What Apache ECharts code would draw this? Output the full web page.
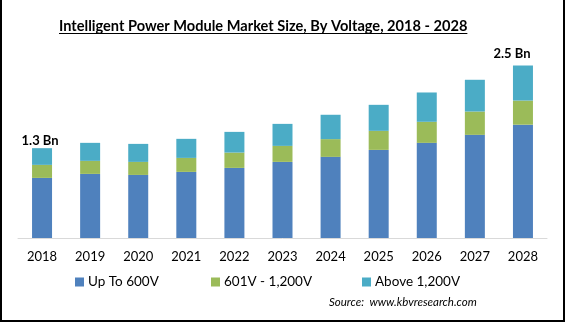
<!DOCTYPE html>
<html>
<head>
<meta charset="utf-8">
<script src="https://cdn.jsdelivr.net/npm/echarts@6/dist/echarts.min.js"></script>
<style>
  html, body { margin: 0; padding: 0; background: #fff; }
  #frame { position: relative; width: 565px; height: 322px; box-sizing: border-box;
           border-left: 2px solid #000; border-right: 2px solid #000; border-bottom: 2px solid #000; }
  #chart { position: absolute; left: -2px; top: 0; width: 565px; height: 322px; }
</style>
</head>
<body>
<div id="frame"><div id="chart"></div></div>
<script>
// Market size by voltage class, USD billion
const years = ['2018','2019','2020','2021','2022','2023','2024','2025','2026','2027','2028'];
const upTo600V = [0.871, 0.929, 0.914, 0.958, 1.016, 1.103, 1.176, 1.277, 1.379, 1.495, 1.642];
const v601to1200 = [0.189, 0.189, 0.189, 0.203, 0.222, 0.232, 0.257, 0.276, 0.305, 0.338, 0.350];
const above1200V = [0.242, 0.261, 0.261, 0.276, 0.300, 0.319, 0.353, 0.377, 0.425, 0.460, 0.508];
const seriesNames = ['Up To 600V', '601V - 1,200V', 'Above 1,200V'];
const colors = ['#4F81BD', '#9BBB59', '#4BACC6'];
const titleText = 'Intelligent Power Module Market Size, By Voltage, 2018 - 2028';

const totals = years.map((_, i) => upTo600V[i] + v601to1200[i] + above1200V[i]);
const lastIdx = years.length - 1;

// Total callouts above the first and last bars
const topData = above1200V.map((v, i) => {
  if (i === 0) {
    return { value: v, label: { show: true, offset: [-2, 1] } };
  }
  if (i === lastIdx) {
    return { value: v, label: { show: true, offset: [-11, -3] } };
  }
  return v;
});

const font = 'Lato, "Open Sans", sans-serif';
const titleSize = 14.6;
const titleX = 59;

// Underline width follows the rendered title width
const ctx = document.createElement('canvas').getContext('2d');
ctx.font = 'bold ' + titleSize + 'px ' + font;
const titleWidth = ctx.measureText(titleText).width;

const chart = echarts.init(document.getElementById('chart'), null, { renderer: 'canvas' });

// One legend per series so each entry sits at its own column
const legendLefts = [70, 206, 357];
const legends = seriesNames.map((name, i) => ({
  data: [name],
  left: legendLefts[i],
  top: 270,
  itemWidth: 9,
  itemHeight: 9,
  itemGap: 0,
  icon: 'rect',
  textStyle: { fontFamily: font, fontSize: 13.5, color: '#000', padding: [0, 0, 0, -1] }
}));

chart.setOption({
  animation: false,
  backgroundColor: 'transparent',
  title: {
    text: titleText,
    left: titleX - 5,
    top: 14,
    textStyle: { fontFamily: font, fontSize: titleSize, fontWeight: 'bold', color: '#000' }
  },
  legend: legends,
  graphic: [
    {
      // title underline
      type: 'line',
      shape: { x1: titleX, y1: 33.5, x2: titleX + titleWidth, y2: 33.5 },
      style: { stroke: '#000', lineWidth: 1 }
    },
    {
      type: 'text',
      left: 329,
      top: 296,
      style: { text: 'Source:  www.kbvresearch.com', fontFamily: font, fontStyle: 'italic',
               fontSize: 11.5, fill: '#000' }
    }
  ],
  grid: { left: 18, right: 18, top: 31, bottom: 84 },
  xAxis: {
    type: 'category',
    data: years,
    axisLine: { lineStyle: { color: '#d9d9d9', width: 1 } },
    axisTick: { show: false },
    axisLabel: { fontFamily: font, fontSize: 13, color: '#000', margin: 12 }
  },
  yAxis: { type: 'value', min: 0, max: 3, show: false, splitLine: { show: false } },
  series: [
    { name: seriesNames[0], type: 'bar', stack: 'v', data: upTo600V, barWidth: 20,
      itemStyle: { color: colors[0] } },
    { name: seriesNames[1], type: 'bar', stack: 'v', data: v601to1200, barWidth: 20,
      itemStyle: { color: colors[1] } },
    { name: seriesNames[2], type: 'bar', stack: 'v', data: topData, barWidth: 20,
      itemStyle: { color: colors[2] },
      label: {
        show: false,
        position: 'top',
        distance: 2,
        fontFamily: font, fontSize: 13, fontWeight: 'bold', color: '#000',
        formatter: p => totals[p.dataIndex].toFixed(1) + ' Bn'
      } }
  ]
});
</script>
</body>
</html>
